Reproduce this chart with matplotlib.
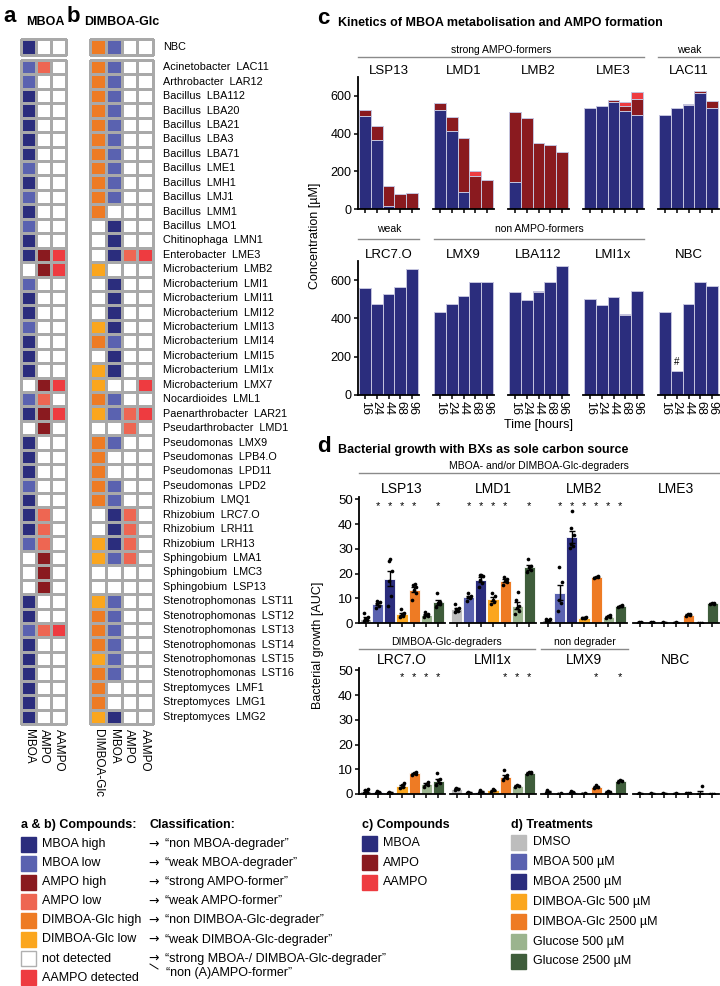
import numpy as np
import matplotlib
matplotlib.use("Agg")
import matplotlib.pyplot as plt
from matplotlib.colors import ListedColormap
from matplotlib.lines import Line2D
from matplotlib.patches import Rectangle

plt.rcParams["font.family"] = ["Liberation Sans", "DejaVu Sans"]

W, H = 720, 986

# ---------------- colours ----------------
NAVY = "#2B2D7D"
MB_LOW = "#5A62B0"
AMPO_H = "#8A1A1F"
AMPO_L = "#EE6652"
DIM_H = "#EE7B24"
DIM_L = "#FBA61E"
AAMPO_C = "#EE3B40"
GRID = "#A9A9A9"

# ---------------- a & b: heatmaps ----------------
STRAINS = [
    "Acinetobacter  LAC11", "Arthrobacter  LAR12", "Bacillus  LBA112", "Bacillus  LBA20",
    "Bacillus  LBA21", "Bacillus  LBA3", "Bacillus  LBA71", "Bacillus  LME1", "Bacillus  LMH1",
    "Bacillus  LMJ1", "Bacillus  LMM1", "Bacillus  LMO1", "Chitinophaga  LMN1",
    "Enterobacter  LME3", "Microbacterium  LMB2", "Microbacterium  LMI1",
    "Microbacterium  LMI11", "Microbacterium  LMI12", "Microbacterium  LMI13",
    "Microbacterium  LMI14", "Microbacterium  LMI15", "Microbacterium  LMI1x",
    "Microbacterium  LMX7", "Nocardioides  LML1", "Paenarthrobacter  LAR21",
    "Pseudarthrobacter  LMD1", "Pseudomonas  LMX9", "Pseudomonas  LPB4.O",
    "Pseudomonas  LPD11", "Pseudomonas  LPD2", "Rhizobium  LMQ1", "Rhizobium  LRC7.O",
    "Rhizobium  LRH11", "Rhizobium  LRH13", "Sphingobium  LMA1", "Sphingobium  LMC3",
    "Sphingobium  LSP13", "Stenotrophomonas  LST11", "Stenotrophomonas  LST12",
    "Stenotrophomonas  LST13", "Stenotrophomonas  LST14", "Stenotrophomonas  LST15",
    "Stenotrophomonas  LST16", "Streptomyces  LMF1", "Streptomyces  LMG1",
    "Streptomyces  LMG2",
]
# H = high, L = low, D = detected, 0 = not detected
A_MBOA = "LLHHHHHLHL" + "HLHH0LHHLH" + "HH0LH0HHHL" + "HHHL000HHL" + "HHHHHH"
A_AMPO = "L000000000" + "000HH00000" + "00HLHH0000" + "0LLLHHH00L" + "000000"
A_AAMPO = "0000000000" + "000DD00000" + "00D0D00000" + "000000000D" + "000000"
B_DIMBOA = "HHHHHHHHHH" + "H000L000LH" + "0LLHL0HHHH" + "H00LL00LHH" + "HLHHHL"
B_MBOA = "LLLLLLLLLL" + "0HHH0HHHHL" + "HH0LL0L00L" + "LHHHL00LLL" + "LLL00H"
B_AMPO = "0000000000" + "000L000000" + "0000LL0000" + "0LLLL00000" + "000000"
B_AAMPO = "0000000000" + "000D000000" + "00D0D00000" + "0000000000" + "000000"
NBC_A = ["H", "0", "0"]
NBC_B = ["H", "L", "0", "0"]
COLS_A = ["MBOA", "AMPO", "AAMPO"]
COLS_B = ["DIMBOA-Glc", "MBOA", "AMPO", "AAMPO"]

CODES = {"MBOA": {"H": 1, "L": 2}, "AMPO": {"H": 3, "L": 4},
         "DIMBOA-Glc": {"H": 5, "L": 6}, "AAMPO": {"D": 7}}
CMAP = ListedColormap(["white", NAVY, MB_LOW, AMPO_H, AMPO_L, DIM_H, DIM_L, AAMPO_C])

# ---------------- c: kinetics ----------------
TIMES = ["16", "24", "44", "68", "96"]
C_TOP = ["LSP13", "LMD1", "LMB2", "LME3", "LAC11"]
C_BOT = ["LRC7.O", "LMX9", "LBA112", "LMI1x", "NBC"]
C_MBOA = {
    "LSP13": [494, 367, 17, 0, 0], "LMD1": [524, 416, 88, 0, 0],
    "LMB2": [144, 0, 0, 0, 0], "LME3": [535, 545, 569, 521, 501],
    "LAC11": [500, 535, 549, 617, 533],
    "LRC7.O": [560, 477, 526, 565, 657], "LMX9": [433, 474, 516, 588, 588],
    "LBA112": [538, 496, 539, 591, 673], "LMI1x": [502, 470, 512, 418, 542],
    "NBC": [433, 125, 475, 591, 568],
}
C_AMPO = {
    "LSP13": [32, 71, 104, 79, 83], "LMD1": [37, 73, 291, 175, 153],
    "LMB2": [368, 482, 351, 337, 302], "LME3": [0, 0, 8, 23, 81],
    "LAC11": [0, 0, 7, 9, 40],
    "LRC7.O": [0, 0, 4, 0, 3], "LMX9": [0, 0, 0, 4, 4],
    "LBA112": [0, 0, 6, 0, 0], "LMI1x": [0, 0, 0, 5, 0], "NBC": [0, 0, 0, 0, 0],
}
C_AAMPO = {
    "LSP13": [0, 0, 0, 0, 0], "LMD1": [0, 0, 0, 26, 0], "LMB2": [0, 0, 0, 0, 0],
    "LME3": [0, 0, 0, 21, 40], "LAC11": [0, 0, 0, 0, 0],
    "LRC7.O": [0, 0, 0, 0, 0], "LMX9": [0, 0, 0, 0, 0], "LBA112": [0, 0, 0, 0, 0],
    "LMI1x": [0, 0, 0, 0, 0], "NBC": [0, 0, 0, 0, 0],
}

# ---------------- d: growth ----------------
TREATMENTS = ["DMSO", "MBOA 500 µM", "MBOA 2500 µM", "DIMBOA-Glc 500 µM",
              "DIMBOA-Glc 2500 µM", "Glucose 500 µM", "Glucose 2500 µM"]
TREAT_COLORS = ["#BDBDBD", MB_LOW, NAVY, DIM_L, DIM_H, "#9BB48E", "#3F5D3B"]
D_TOP = ["LSP13", "LMD1", "LMB2", "LME3"]
D_BOT = ["LRC7.O", "LMI1x", "LMX9", "NBC"]
D_MEAN = {
    "LSP13": [1.8, 7.7, 17.9, 3.7, 13.5, 3.4, 8.4],
    "LMD1": [5.5, 10.5, 17.6, 9.8, 17.2, 7.0, 22.5],
    "LMB2": [1.2, 12.3, 34.8, 2.2, 18.6, 2.6, 6.8],
    "LME3": [0.3, 0.3, 0.2, 0.2, 3.4, 0.1, 7.9],
    "LRC7.O": [1.3, 0.8, 0.5, 3.4, 8.3, 4.0, 5.2],
    "LMI1x": [2.2, 0.5, 1.0, 1.5, 7.0, 3.3, 8.6],
    "LMX9": [1.0, 0.3, 0.8, 0.4, 3.0, 0.9, 5.4],
    "NBC": [0.2, 0.2, 0.2, 0.2, 0.4, 0.3, 0.1],
}
D_POINTS = {
    "LSP13": [[0.8, 1.2, 1.8, 2.5, 4.0], [6.0, 7.0, 7.5, 8.5, 9.0],
              [7.0, 11.0, 17.0, 21.0, 25.0, 26.0], [2.5, 3.0, 3.5, 4.0, 5.5],
              [9.5, 12.0, 13.5, 14.5, 15.5, 15.8], [2.5, 3.0, 3.3, 3.8, 4.5],
              [6.5, 7.5, 8.0, 8.5, 12.3]],
    "LMD1": [[4.5, 5.0, 5.5, 6.0, 7.5], [9.0, 10.0, 10.5, 11.0, 12.0],
             [14.5, 16.0, 17.5, 19.0, 19.5, 19.5], [7.5, 8.5, 9.5, 11.0, 12.0],
             [15.5, 16.5, 17.0, 18.0, 18.8], [3.5, 5.0, 6.0, 7.0, 9.5, 12.5],
             [20.5, 21.5, 22.5, 23.0, 26.0]],
    "LMB2": [[0.8, 1.0, 1.2, 1.5, 1.8], [5.0, 8.0, 9.5, 16.5, 22.5],
             [30.5, 31.0, 32.0, 35.5, 38.5, 45.5], [1.9, 2.1, 2.2, 2.4],
             [18.2, 18.5, 18.7, 19.0], [2.0, 2.4, 2.7, 3.1], [6.4, 6.7, 6.9, 7.2]],
    "LME3": [[0.2, 0.3, 0.4], [0.2, 0.3, 0.4], [0.1, 0.2, 0.3], [0.1, 0.2, 0.3],
             [3.0, 3.3, 3.5, 3.8], [0.0, 0.1, 0.2], [7.6, 7.8, 8.0, 8.2]],
    "LRC7.O": [[0.5, 1.0, 1.5, 2.2], [0.5, 0.8, 1.2], [0.3, 0.5, 0.8],
               [2.5, 3.0, 3.5, 4.5], [7.5, 8.0, 8.5, 9.0], [3.0, 3.5, 4.0, 4.8],
               [3.5, 4.5, 5.5, 6.0, 8.3]],
    "LMI1x": [[1.8, 2.2, 2.6], [0.3, 0.5, 0.8], [0.5, 1.0, 1.8], [1.0, 1.5, 2.0],
              [5.5, 6.5, 7.0, 7.8, 9.6], [2.8, 3.2, 3.6], [8.0, 8.5, 8.8, 9.0]],
    "LMX9": [[0.5, 1.0, 1.6], [0.2, 0.4], [0.5, 0.8, 1.2], [0.2, 0.5],
             [2.3, 3.0, 3.8], [0.5, 1.0, 1.4], [5.0, 5.4, 5.8]],
    "NBC": [[0.1, 0.2, 0.3], [0.1, 0.2, 0.3], [0.1, 0.2, 0.3], [0.1, 0.2, 0.3],
            [0.3, 0.4, 0.5], [0.1, 0.2, 0.2, 3.4], [0.0, 0.1, 0.2]],
}
D_STARS = {"LSP13": [1, 2, 3, 4, 6], "LMD1": [1, 2, 3, 4, 6],
           "LMB2": [1, 2, 3, 4, 5, 6], "LME3": [],
           "LRC7.O": [3, 4, 5, 6], "LMI1x": [4, 5, 6], "LMX9": [4, 6], "NBC": []}

fig = plt.figure(figsize=(W / 100, H / 100), dpi=100)


def px_axes(x0, y0, x1, y1):
    return fig.add_axes([x0 / W, 1 - y1 / H, (x1 - x0) / W, (y1 - y0) / H])


def ftext(x, y, s, **kw):
    return fig.text(x / W, 1 - y / H, s, **kw)


def fline(x0, x1, y, color="#8A8A8A"):
    fig.add_artist(Line2D([x0 / W, x1 / W], [1 - y / H] * 2, color=color, lw=1.0))


def swatch(x, y, color, edge=None):
    fig.add_artist(Rectangle((x / W, 1 - (y + 7.5) / H), 15 / W, 15 / H,
                             transform=fig.transFigure, facecolor=color,
                             edgecolor=edge if edge else color, lw=1.0))


def code_matrix(columns, names):
    return np.array([[CODES[n].get(ch, 0) for ch in col]
                     for col, n in zip(columns, names)]).T


def heat(ax, mat):
    mesh = ax.pcolormesh(mat, cmap=CMAP, vmin=-0.5, vmax=7.5,
                         edgecolors=GRID, linewidth=1.0)
    mesh.set_clip_on(False)
    ax.set_xlim(0, mat.shape[1])
    ax.set_ylim(mat.shape[0], 0)
    ax.axis("off")


mat_a = code_matrix([A_MBOA, A_AMPO, A_AAMPO], COLS_A)
mat_b = code_matrix([B_DIMBOA, B_MBOA, B_AMPO, B_AAMPO], COLS_B)
nbc_a = code_matrix([[c] for c in NBC_A], COLS_A)
nbc_b = code_matrix([[c] for c in NBC_B], COLS_B)

ax_a = px_axes(21, 60, 66, 724)
heat(ax_a, mat_a)
heat(px_axes(21, 39, 66, 55), nbc_a)
ax_b = px_axes(90, 60, 153, 724)
heat(ax_b, mat_b)
ax_bn = px_axes(90, 39, 153, 55)
heat(ax_bn, nbc_b)

for j, c in enumerate(COLS_A):
    ax_a.text(j + 0.5, len(STRAINS) + 0.35, c, rotation=-90, ha="center", va="top", fontsize=8.5)
for j, c in enumerate(COLS_B):
    ax_b.text(j + 0.5, len(STRAINS) + 0.35, c, rotation=-90, ha="center", va="top", fontsize=8.5)
for i, s in enumerate(STRAINS):
    ax_b.text(4.62, i + 0.5, s, ha="left", va="center", fontsize=7.8)
ax_bn.text(4.62, 0.5, "NBC", ha="left", va="center", fontsize=7.8)

ftext(3, 22, "a", fontsize=16, fontweight="bold")
ftext(26, 25, "MBOA", fontsize=9, fontweight="bold")
ftext(67, 22, "b", fontsize=16, fontweight="bold")
ftext(84, 25, "DIMBOA-Glc", fontsize=9, fontweight="bold")

# ---------------- c ----------------
ftext(317, 24, "c", fontsize=16, fontweight="bold")
ftext(338, 26, "Kinetics of MBOA metabolisation and AMPO formation", fontsize=9, fontweight="bold")
C_X = [358, 433, 508, 583, 658]
C_W = 61


def kinetics(ax, name, first, labels):
    x = np.arange(len(TIMES))
    m = np.array(C_MBOA[name])
    a = np.array(C_AMPO[name])
    aa = np.array(C_AAMPO[name])
    kw = dict(width=1.0, edgecolor="#C4C4DE", linewidth=0.7)
    ax.bar(x, m, color=NAVY, **kw)
    ax.bar(x, a, bottom=m, color=AMPO_H, **kw)
    ax.bar(x, aa, bottom=m + a, color=AAMPO_C, **kw)
    ax.set_xlim(-0.55, 4.55)
    ax.set_ylim(0, 700)
    for sp in ["top", "right"]:
        ax.spines[sp].set_visible(False)
    ax.spines["bottom"].set_linewidth(1.3)
    ax.spines["left"].set_linewidth(1.3)
    ax.set_xticks(x)
    ax.tick_params(axis="both", length=3, width=1.1, labelsize=9, pad=1.5)
    if labels:
        ax.set_xticklabels(TIMES, rotation=-90)
    else:
        ax.set_xticklabels([])
    if first:
        ax.set_yticks([0, 200, 400, 600])
    else:
        ax.spines["left"].set_visible(False)
        ax.set_yticks([])
    ax.set_title(name, fontsize=9.5, pad=0.5)
    return ax


for k, n in enumerate(C_TOP):
    kinetics(px_axes(C_X[k], 77, C_X[k] + C_W, 209), n, k == 0, False)
bot_axes = []
for k, n in enumerate(C_BOT):
    bot_axes.append(kinetics(px_axes(C_X[k], 261, C_X[k] + C_W, 395), n, k == 0, True))
nbc_ax = bot_axes[-1]
nbc_ax.text(1, C_MBOA["NBC"][1] + 20, "#", ha="center", va="bottom", fontsize=7)

fline(358, 644, 57)
ftext(501, 50, "strong AMPO-formers", ha="center", va="center", fontsize=7.5)
fline(658, 720, 57)
ftext(689, 50, "weak", ha="center", va="center", fontsize=7.5)
fline(358, 419, 239)
ftext(389, 229, "weak", ha="center", va="center", fontsize=7.5)
fline(434, 644, 239)
ftext(539, 229, "non AMPO-formers", ha="center", va="center", fontsize=7.5)
ftext(315, 236, "Concentration [µM]", rotation=90, ha="center", va="center", fontsize=9)
ftext(538, 425, "Time [hours]", ha="center", va="center", fontsize=9)

# ---------------- d ----------------
ftext(317, 452, "d", fontsize=16, fontweight="bold")
ftext(338, 453, "Bacterial growth with BXs as sole carbon source", fontsize=9, fontweight="bold")
D_X = [359, 450, 541, 633]
D_W = 86
OFFS = [-0.16, 0.12, -0.04, 0.17, -0.1, 0.05]


def growth(ax, name, first):
    x = np.arange(len(TREATMENTS))
    means = D_MEAN[name]
    pts = D_POINTS[name]
    sem = [np.std(p, ddof=1) / np.sqrt(len(p)) for p in pts]
    ax.bar(x, means, width=0.92, color=TREAT_COLORS, edgecolor="white", linewidth=0.6)
    ax.errorbar(x, means, yerr=sem, fmt="none", ecolor="black", elinewidth=1.0, capsize=2, capthick=1.0)
    for i, p in enumerate(pts):
        ax.scatter([i + OFFS[j % len(OFFS)] for j in range(len(p))], p, s=7, color="black",
                   zorder=3, linewidths=0)
    for i in D_STARS[name]:
        ax.text(i, 47.5, "*", ha="center", va="center", fontsize=8)
    ax.set_xlim(-0.55, 6.55)
    ax.set_ylim(0, 51)
    for sp in ["top", "right"]:
        ax.spines[sp].set_visible(False)
    ax.spines["bottom"].set_linewidth(1.3)
    ax.spines["left"].set_linewidth(1.3)
    ax.set_xticks(x)
    ax.set_xticklabels([])
    ax.tick_params(axis="both", length=3, width=1.1, labelsize=9.5, pad=1.5)
    if first:
        ax.set_yticks([0, 10, 20, 30, 40, 50])
    else:
        ax.spines["left"].set_visible(False)
        ax.set_yticks([])
    ax.set_title(name, fontsize=10, pad=3)


for k, n in enumerate(D_TOP):
    growth(px_axes(D_X[k], 497, D_X[k] + D_W, 623), n, k == 0)
for k, n in enumerate(D_BOT):
    growth(px_axes(D_X[k], 668, D_X[k] + D_W, 794), n, k == 0)

fline(359, 720, 473)
ftext(539, 466, "MBOA- and/or DIMBOA-Glc-degraders", ha="center", va="center", fontsize=7.5)
fline(359, 535, 649)
ftext(447, 642, "DIMBOA-Glc-degraders", ha="center", va="center", fontsize=7.5)
fline(541, 628, 649)
ftext(585, 642, "non degrader", ha="center", va="center", fontsize=7.5)
ftext(318, 645, "Bacterial growth [AUC]", rotation=90, ha="center", va="center", fontsize=9)

# ---------------- legends ----------------
LEG_AB_LABELS = ["MBOA high", "MBOA low", "AMPO high", "AMPO low", "DIMBOA-Glc high",
                 "DIMBOA-Glc low", "not detected", "AAMPO detected"]
LEG_AB_COLORS = [NAVY, MB_LOW, AMPO_H, AMPO_L, DIM_H, DIM_L, "white", AAMPO_C]
LEG_AB_CLASS = ["“non MBOA-degrader”", "“weak MBOA-degrader”", "“strong AMPO-former”",
                "“weak AMPO-former”", "“non DIMBOA-Glc-degrader”",
                "“weak DIMBOA-Glc-degrader”", "“strong MBOA-/ DIMBOA-Glc-degrader”"]
LEG_C_LABELS = ["MBOA", "AMPO", "AAMPO"]
LEG_C_COLORS = [NAVY, AMPO_H, AAMPO_C]

ftext(21, 825, "a & b) Compounds:", fontsize=9, fontweight="bold", va="center")
ftext(150, 825, "Classification:", fontsize=9, fontweight="bold", va="center")
for i, (lab, col) in enumerate(zip(LEG_AB_LABELS, LEG_AB_COLORS)):
    y = 844 + i * 19.1
    swatch(21, y, col, edge="#B0B0B0" if col == "white" else None)
    ftext(42, y, lab, fontsize=9, va="center")
for i, cls in enumerate(LEG_AB_CLASS):
    y = 844 + i * 19.1
    ftext(148, y, "→", fontsize=9, va="center", family="DejaVu Sans")
    ftext(165, y, cls, fontsize=9, va="center")
ftext(166, 973, "“non (A)AMPO-former”", fontsize=9, va="center")
fig.add_artist(Line2D([150 / W, 158 / W], [1 - 964 / H, 1 - 969 / H], color="black", lw=0.7))

ftext(362, 825, "c) Compounds", fontsize=9, fontweight="bold", va="center")
for i, (lab, col) in enumerate(zip(LEG_C_LABELS, LEG_C_COLORS)):
    y = 843 + i * 19.6
    swatch(362, y, col)
    ftext(383, y, lab, fontsize=9, va="center")

ftext(511, 825, "d) Treatments", fontsize=9, fontweight="bold", va="center")
for i, (lab, col) in enumerate(zip(TREATMENTS, TREAT_COLORS)):
    y = 842 + i * 19.9
    swatch(511, y, col)
    ftext(533, y, lab, fontsize=9, va="center")

fig.savefig("out.png", dpi=100)
